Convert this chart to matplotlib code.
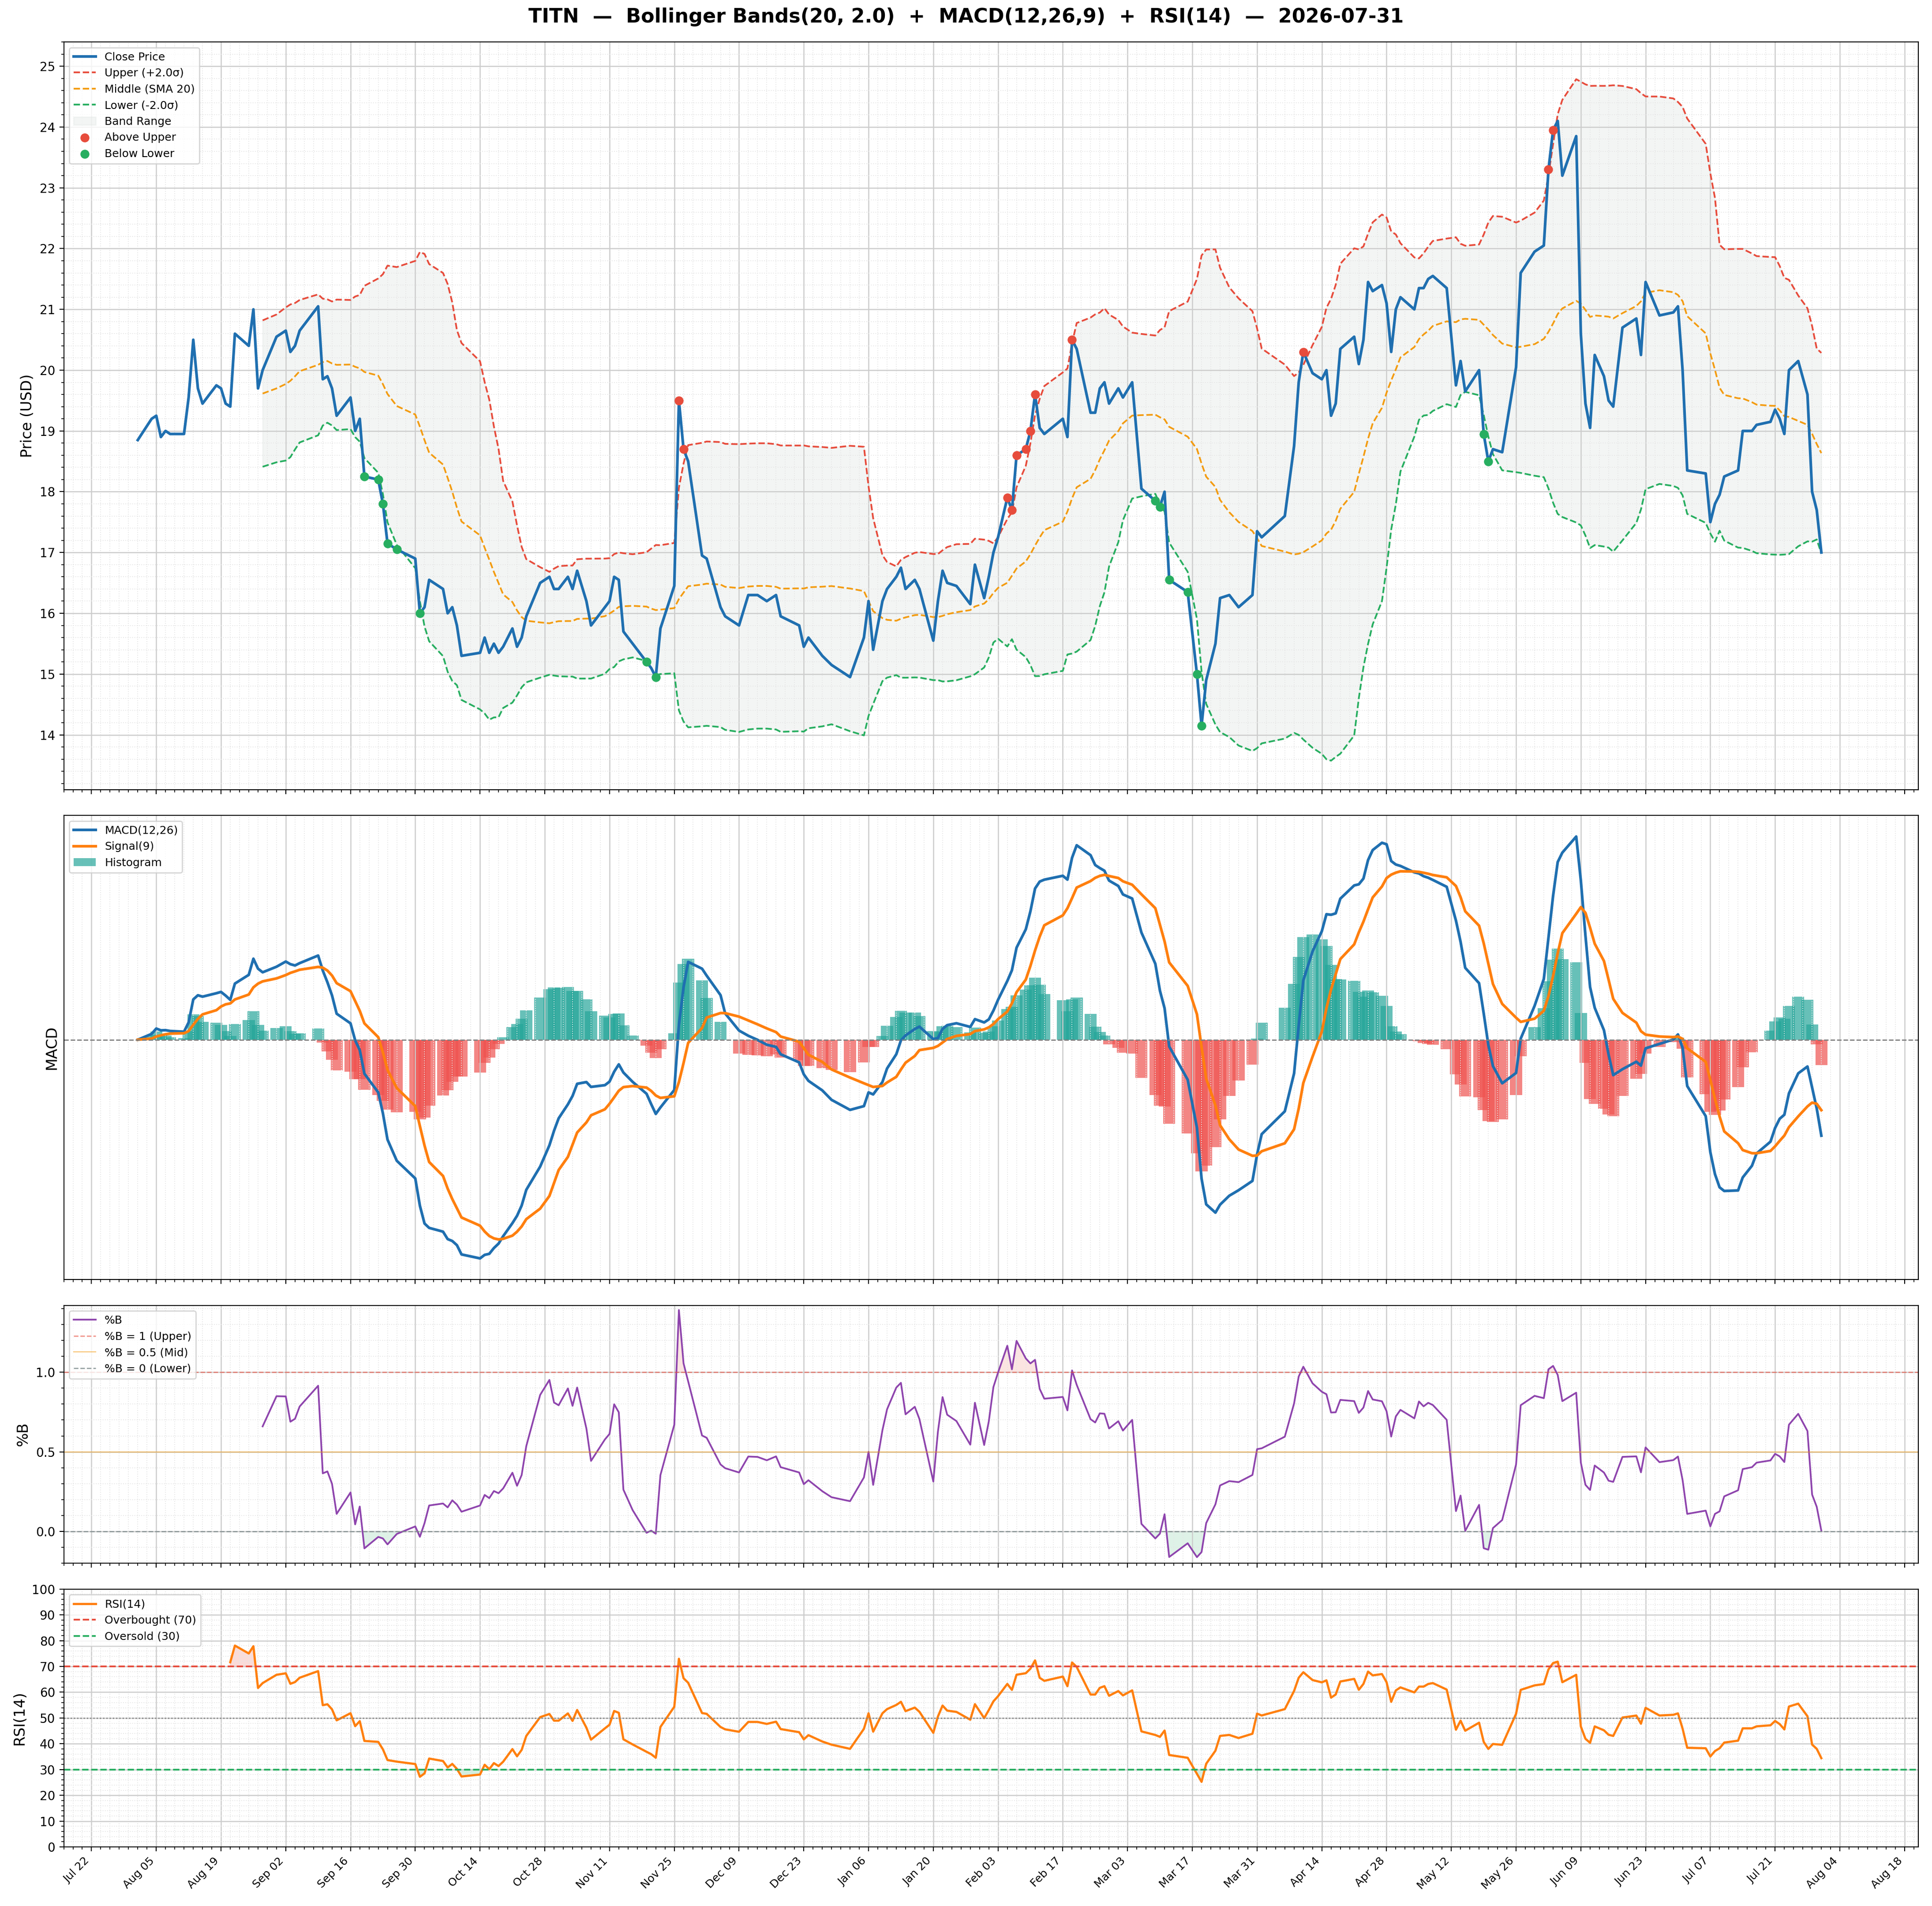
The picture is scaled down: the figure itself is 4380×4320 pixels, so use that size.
import numpy as np
import pandas as pd
import matplotlib
matplotlib.use("Agg")
import matplotlib.pyplot as plt
import matplotlib.dates as mdates
from matplotlib.ticker import AutoMinorLocator, MultipleLocator

# day offsets from 2025-08-01 and close prices
day_off = [0, 3, 4, 5, 6, 7, 10, 11, 12, 13, 14, 17, 18, 19, 20, 21, 24, 25, 26, 27,
           30, 32, 33, 34, 35, 38, 39, 40, 41, 42, 45, 46, 47, 48, 51, 52, 53, 55, 59, 60,
           61, 62, 65, 66, 67, 68, 69, 73, 74, 75, 76, 77, 78, 80, 81, 82, 83, 86, 88, 89,
           90, 92, 93, 94, 96, 97, 100, 101, 102, 103, 104, 106, 108, 109, 110, 111, 114, 115, 116, 117,
           120, 121, 124, 125, 128, 130, 132, 134, 136, 137, 141, 142, 143, 146, 148, 152, 155, 156, 157, 159,
           160, 162, 163, 164, 166, 167, 170, 171, 172, 173, 175, 178, 179, 180, 181, 182, 183, 185, 186, 187,
           189, 190, 191, 192, 193, 197, 198, 199, 200, 203, 204, 205, 206, 207, 209, 210, 212, 214, 217, 218,
           219, 220, 224, 226, 227, 228, 230, 231, 233, 235, 238, 239, 240, 245, 247, 248, 249, 251, 252, 253,
           254, 255, 256, 259, 260, 261, 262, 263, 265, 266, 267, 268, 269, 272, 273, 274, 275, 276, 279, 281,
           282, 283, 286, 287, 288, 289, 291, 294, 295, 298, 300, 301, 302, 303, 304, 307, 308, 309, 310, 311,
           313, 314, 315, 317, 320, 321, 322, 324, 327, 328, 329, 330, 334, 335, 336, 337, 338, 341, 342, 344,
           345, 348, 349, 350, 351, 352, 354, 356, 357, 358, 359]
close = [18.85, 19.2, 19.25, 18.9, 19.0, 18.95, 18.95, 19.55, 20.5, 19.7, 19.45, 19.75, 19.7, 19.45, 19.4, 20.6, 20.4, 21.0, 19.7, 20.0,
         20.55, 20.65, 20.3, 20.4, 20.65, 21.05, 19.85, 19.9, 19.7, 19.25, 19.55, 19.0, 19.2, 18.25, 18.2, 17.8, 17.15, 17.05, 16.9, 16.0,
         16.1, 16.55, 16.4, 16.0, 16.1, 15.8, 15.3, 15.35, 15.6, 15.35, 15.5, 15.35, 15.45, 15.75, 15.45, 15.6, 15.95, 16.5, 16.6, 16.4,
         16.4, 16.6, 16.4, 16.7, 16.2, 15.8, 16.1, 16.2, 16.6, 16.55, 15.7, 15.5, 15.2, 15.1, 14.95, 15.75, 16.45, 19.5, 18.7, 18.5,
         16.95, 16.9, 16.1, 15.95, 15.8, 16.3, 16.3, 16.2, 16.3, 15.95, 15.8, 15.45, 15.6, 15.3, 15.15, 14.95, 15.6, 16.2, 15.4, 16.2,
         16.4, 16.6, 16.75, 16.4, 16.55, 16.4, 15.55, 16.2, 16.7, 16.5, 16.45, 16.15, 16.8, 16.25, 16.6, 17.0, 17.25, 17.9, 17.7, 18.6,
         18.7, 19.0, 19.6, 19.05, 18.95, 19.2, 18.9, 20.5, 20.35, 19.3, 19.3, 19.7, 19.8, 19.45, 19.7, 19.55, 19.8, 18.05, 17.85, 17.75,
         18.0, 16.55, 16.35, 15.0, 14.15, 14.9, 15.5, 16.25, 16.3, 16.1, 16.3, 17.35, 17.25, 17.6, 18.75, 19.8, 20.3, 19.95, 19.85, 20.0,
         19.25, 19.45, 20.35, 20.55, 20.1, 20.5, 21.45, 21.3, 21.4, 21.1, 20.3, 21.0, 21.2, 21.0, 21.35, 21.35, 21.5, 21.55, 21.35, 19.75,
         20.15, 19.65, 20.0, 18.95, 18.5, 18.7, 18.65, 20.05, 21.6, 21.95, 22.05, 23.3, 23.95, 24.1, 23.2, 23.85, 20.6, 19.45, 19.05, 20.25,
         19.9, 19.5, 19.4, 20.7, 20.85, 20.25, 21.45, 20.9, 20.95, 21.05, 20.0, 18.35, 18.3, 17.5, 17.8, 17.95, 18.25, 18.35, 19.0, 19.0,
         19.1, 19.15, 19.35, 19.2, 18.95, 20.0, 20.15, 19.6, 18.0, 17.7, 17.0]

dates = pd.Timestamp("2025-08-01") + pd.to_timedelta(np.round(np.array(day_off) * 364 / 359), unit="D")
s = pd.Series(close, index=dates)

# indicators
mid = s.rolling(20).mean()
sd = s.rolling(20).std(ddof=0)
upper = mid + 2 * sd
lower = mid - 2 * sd
pctb = (s - lower) / (upper - lower)

ema12 = s.ewm(span=12, adjust=False).mean()
ema26 = s.ewm(span=26, adjust=False).mean()
macd = ema12 - ema26
signal = macd.ewm(span=9, adjust=False).mean()
hist = macd - signal

delta = s.diff()
gain = delta.clip(lower=0).ewm(alpha=1 / 14, adjust=False, min_periods=14).mean()
loss = (-delta.clip(upper=0)).ewm(alpha=1 / 14, adjust=False, min_periods=14).mean()
rsi = 100 - 100 / (1 + gain / loss)

fig, axes = plt.subplots(4, 1, figsize=(21.9, 21.6), sharex=True,
                         gridspec_kw={"height_ratios": [2.9, 1.8, 1, 1]})
ax1, ax2, ax3, ax4 = axes

ax1.plot(s.index, s, color="#1f6fb0", lw=2.2, label="Close Price", zorder=4)
ax1.plot(upper.index, upper, "--", color="#e74c3c", lw=1.4, label="Upper (+2.0σ)")
ax1.plot(mid.index, mid, "--", color="#f39c12", lw=1.4, label="Middle (SMA 20)")
ax1.plot(lower.index, lower, "--", color="#27ae60", lw=1.4, label="Lower (-2.0σ)")
ax1.fill_between(s.index, lower, upper, color="#dfe5e2", alpha=0.35, label="Band Range")
au = s >= upper
bl = s <= lower
ax1.scatter(s.index[au], s[au], color="#e74c3c", s=40, zorder=5, label="Above Upper")
ax1.scatter(s.index[bl], s[bl], color="#27ae60", s=40, zorder=5, label="Below Lower")
ax1.set_ylabel("Price (USD)", fontsize=12)
ax1.set_ylim(13.1, 25.4)
ax1.yaxis.set_major_locator(MultipleLocator(1))
ax1.legend(loc="upper left", fontsize=9)

w = 2.6
ax2.plot(macd.index, macd, color="#1f6fb0", lw=2.2, label="MACD(12,26)")
ax2.plot(signal.index, signal, color="#ff7f0e", lw=2.2, label="Signal(9)")
ax2.bar(hist.index, hist.where(hist > 0, 0), width=w, color="#26a69a", alpha=0.7, label="Histogram", zorder=1)
ax2.bar(hist.index, hist.where(hist < 0, 0), width=w, color="#ef5350", alpha=0.7, zorder=1)
ax2.axhline(0, color="gray", ls="--", lw=1)
ax2.set_yticks([])
ax2.set_ylabel("MACD", fontsize=12)
ax2.legend(loc="upper left", fontsize=9)

ax3.plot(pctb.index, pctb, color="#8e44ad", lw=1.4, label="%B")
ax3.axhline(1, color="#e74c3c", ls="--", lw=1, alpha=0.6, label="%B = 1 (Upper)")
ax3.axhline(0.5, color="#f39c12", ls="-", lw=0.8, alpha=0.6, label="%B = 0.5 (Mid)")
ax3.axhline(0, color="#7f8c8d", ls="--", lw=1, alpha=0.8, label="%B = 0 (Lower)")
ax3.fill_between(pctb.index, pctb, 1, where=pctb > 1, color="#e74c3c", alpha=0.15, interpolate=True)
ax3.fill_between(pctb.index, pctb, 0, where=pctb < 0, color="#27ae60", alpha=0.15, interpolate=True)
ax3.set_ylabel("%B", fontsize=12)
ax3.set_ylim(-0.2, 1.42)
ax3.set_yticks([0.0, 0.5, 1.0])
ax3.legend(loc="upper left", fontsize=9)

ax4.plot(rsi.index, rsi, color="#ff7f0e", lw=1.8, label="RSI(14)")
ax4.axhline(70, color="#e74c3c", ls="--", lw=1.4, label="Overbought (70)")
ax4.axhline(30, color="#27ae60", ls="--", lw=1.4, label="Oversold (30)")
ax4.axhline(50, color="gray", ls=":", lw=1)
ax4.fill_between(rsi.index, rsi, 70, where=rsi > 70, color="#e74c3c", alpha=0.2, interpolate=True)
ax4.fill_between(rsi.index, rsi, 30, where=rsi < 30, color="#27ae60", alpha=0.2, interpolate=True)
ax4.set_ylim(0, 100)
ax4.set_yticks(range(0, 101, 10))
ax4.set_ylabel("RSI(14)", fontsize=12)
ax4.legend(loc="upper left", fontsize=9)

ticks = pd.date_range("2025-07-22", "2026-08-18", freq="14D")
for ax in axes:
    ax.grid(True, which="major", color="#cccccc", lw=0.9)
    ax.grid(True, which="minor", color="#e6e6e6", ls=":", lw=0.7)
    ax.yaxis.set_minor_locator(AutoMinorLocator(5))
    ax.tick_params(labelsize=10)
ax4.set_xticks(ticks)
ax4.xaxis.set_minor_locator(mdates.DayLocator(interval=2))
ax4.xaxis.set_major_formatter(mdates.DateFormatter("%b %d"))
ax4.set_xlim(pd.Timestamp("2025-07-16"), pd.Timestamp("2026-08-21"))
plt.setp(ax4.get_xticklabels(), rotation=45, ha="right", fontsize=9)

fig.suptitle("TITN  —  Bollinger Bands(20, 2.0)  +  MACD(12,26,9)  +  RSI(14)  —  2026-07-31",
             fontsize=16, fontweight="bold", y=0.996)
fig.subplots_adjust(left=0.033, right=0.993, top=0.978, bottom=0.031, hspace=0.06)
fig.savefig("out.png", dpi=200)
